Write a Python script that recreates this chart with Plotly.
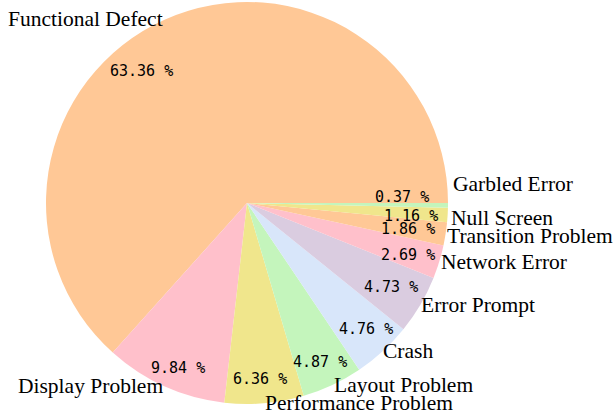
import math
import plotly.graph_objects as go

categories = ["Functional Defect", "Display Problem", "Performance Problem", "Layout Problem",
              "Crash", "Error Prompt", "Network Error", "Transition Problem", "Null Screen",
              "Garbled Error"]
shares = [63.36, 9.84, 6.36, 4.87, 4.76, 4.73, 2.69, 1.86, 1.16, 0.37]
colors = ["#FFC896", "#FFC0CB", "#F0E68C", "#C4F5BC", "#D8E6FA", "#DACCE0",
          "#FFC0CB", "#FFC896", "#F0E68C", "#C4F5BC"]

# label layout tweaks (overlap avoidance), pixels / fractions of radius
label_dx = [0, 0, -1, -1, -2, -1, 0, -1, 1, 3]
label_dy = [0, 0, 0, 0, 0, 0, 0, 2, 3, -21]
pct_dist = [0.84, 0.89, 0.88, 0.87, 0.86, 0.83, 0.84, 0.81, 0.82, 0.77]
pct_dang = [14.5, 1.5, -0.8, -0.4, 0.9, 0.1, -1.0, -0.4, -1.0, 3.0]

W, H = 613, 419
cx, cy, r = 247, 203, 201

total = sum(shares)
# plotly counterclockwise: first slice lies clockwise of `rotation`; start first slice at 3 o'clock
rotation = 90 - 360.0 * shares[0] / total

fig = go.Figure(go.Pie(
    labels=categories, values=shares, sort=False, direction="counterclockwise",
    rotation=rotation, textinfo="none", hoverinfo="label+percent",
    marker=dict(colors=colors, line=dict(width=0)),
    domain=dict(x=[(cx - r) / W, (cx + r) / W], y=[(H - cy - r) / H, (H - cy + r) / H]),
    showlegend=False,
))

start = 0.0
ann = []
for i, (name, v) in enumerate(zip(categories, shares)):
    span = 360.0 * v / total
    mid = start + span / 2
    start += span
    a = math.radians(mid)
    lx = cx + r * math.cos(a) + label_dx[i]
    ly = cy - r * math.sin(a) + label_dy[i]
    ann.append(dict(x=lx / W, y=1 - ly / H, xref="paper", yref="paper", text=name,
                    showarrow=False, xanchor="left" if math.cos(a) > 0 else "right",
                    yanchor="middle",
                    font=dict(family="Liberation Serif", size=21.5, color="black")))
    pa = math.radians(mid + pct_dang[i])
    px = cx + pct_dist[i] * r * math.cos(pa)
    py = cy - pct_dist[i] * r * math.sin(pa)
    ann.append(dict(x=px / W, y=1 - py / H, xref="paper", yref="paper",
                    text=f"{v:.2f} %", showarrow=False, xanchor="center", yanchor="middle",
                    font=dict(family="DejaVu Sans Mono", size=15, color="black")))

fig.update_layout(width=W, height=H, margin=dict(l=0, r=0, t=0, b=0),
                  paper_bgcolor="white", plot_bgcolor="white", annotations=ann)
fig.write_html("out.html", config={"displayModeBar": False},
               post_script="document.body.style.margin='0';document.body.style.overflow='hidden';")
